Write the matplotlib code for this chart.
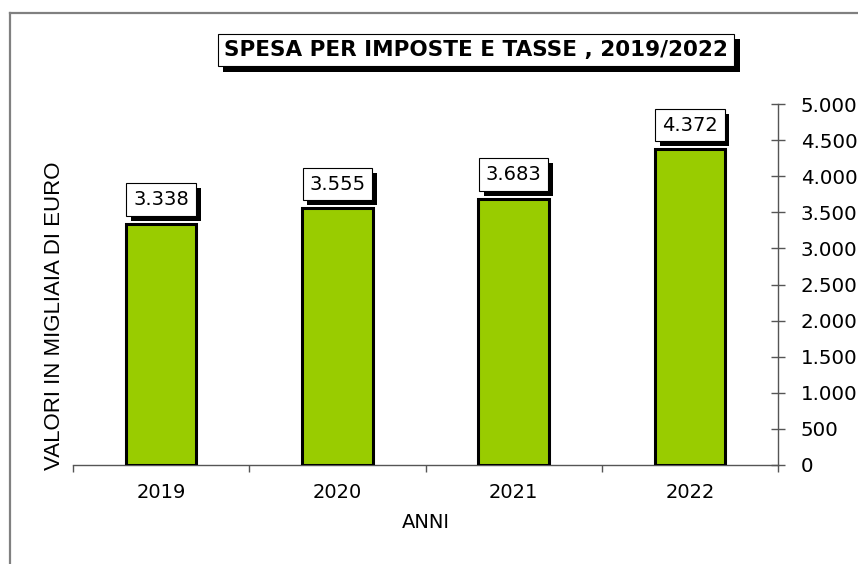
import matplotlib
matplotlib.use("Agg")
import matplotlib.pyplot as plt
from matplotlib.lines import Line2D
from matplotlib.ticker import FuncFormatter, FixedLocator
import matplotlib.patheffects as pe

years = ["2019", "2020", "2021", "2022"]
values = [3338, 3555, 3683, 4372]
yticks = [0, 500, 1000, 1500, 2000, 2500, 3000, 3500, 4000, 4500, 5000]
title = "SPESA PER IMPOSTE E TASSE , 2019/2022"
ylabel = "VALORI IN MIGLIAIA DI EURO"
xlabel = "ANNI"

plt.rcParams["font.family"] = ["DejaVu Sans"]

def it_fmt(v):
    return f"{int(round(v)):,}".replace(",", ".")

W, H = 858, 564
fig = plt.figure(figsize=(W / 100, H / 100), dpi=100)
fig.patch.set_facecolor("white")

ax = fig.add_axes([73 / W, 1 - 465 / H, (778 - 73) / W, (465 - 104) / H])
x = list(range(len(years)))
ax.bar(x, values, width=0.40, color="#99CC00", edgecolor="black", linewidth=2.2, zorder=3)
ax.set_xlim(-0.5, len(years) - 0.5)
ax.set_ylim(0, 5000)

for s in ["top", "left"]:
    ax.spines[s].set_visible(False)
ax.spines["right"].set_color("#555555")
ax.spines["bottom"].set_color("#555555")
ax.spines["right"].set_linewidth(1.0)
ax.spines["bottom"].set_linewidth(1.0)

ax.yaxis.tick_right()
ax.set_yticks(yticks)
ax.yaxis.set_major_formatter(FuncFormatter(lambda v, p: it_fmt(v)))
ax.tick_params(axis="y", direction="inout", length=10, width=1.0, color="#555555",
               pad=11.5, labelsize=14.3, labelcolor="black")

ax.set_xticks(x)
ax.set_xticklabels(years)
ax.tick_params(axis="x", which="major", length=0, pad=13, labelsize=14)
ax.xaxis.set_minor_locator(FixedLocator([i - 0.5 for i in range(len(years) + 1)]))
ax.tick_params(axis="x", which="minor", direction="out", length=5, width=1.0, color="#555555")

ax.set_xlabel(xlabel, fontsize=14, labelpad=8)

for xi, v in zip(x, values):
    t = ax.annotate(it_fmt(v), xy=(xi, v), xytext=(0, 17.5), textcoords="offset points",
                    ha="center", va="center", fontsize=14, zorder=5,
                    bbox=dict(boxstyle="square,pad=0.35", fc="white", ec="black", lw=0.8))
    t.get_bbox_patch().set_path_effects([
        pe.SimplePatchShadow(offset=(3.5, -3.5), shadow_rgbFace="black", alpha=1.0),
        pe.Normal()])

tt = fig.text(476 / W, 1 - 50 / H, title, ha="center", va="center", fontsize=15.5,
              fontweight="bold",
              bbox=dict(boxstyle="square,pad=0.3", fc="white", ec="black", lw=0.8))
tt.get_bbox_patch().set_path_effects([
    pe.SimplePatchShadow(offset=(4, -4), shadow_rgbFace="black", alpha=1.0),
    pe.Normal()])

fig.text(55 / W, 1 - 316 / H, ylabel, rotation=90, ha="center", va="center",
         fontsize=16, family="Liberation Sans")

# outer chart border (top and left visible)
fig.add_artist(Line2D([10 / W, 1.0], [1 - 13 / H, 1 - 13 / H], transform=fig.transFigure,
                      color="#808080", lw=1.6))
fig.add_artist(Line2D([10 / W, 10 / W], [1 - 13 / H, 0.0], transform=fig.transFigure,
                      color="#808080", lw=1.6))

fig.savefig("out.png", dpi=100, facecolor="white")
